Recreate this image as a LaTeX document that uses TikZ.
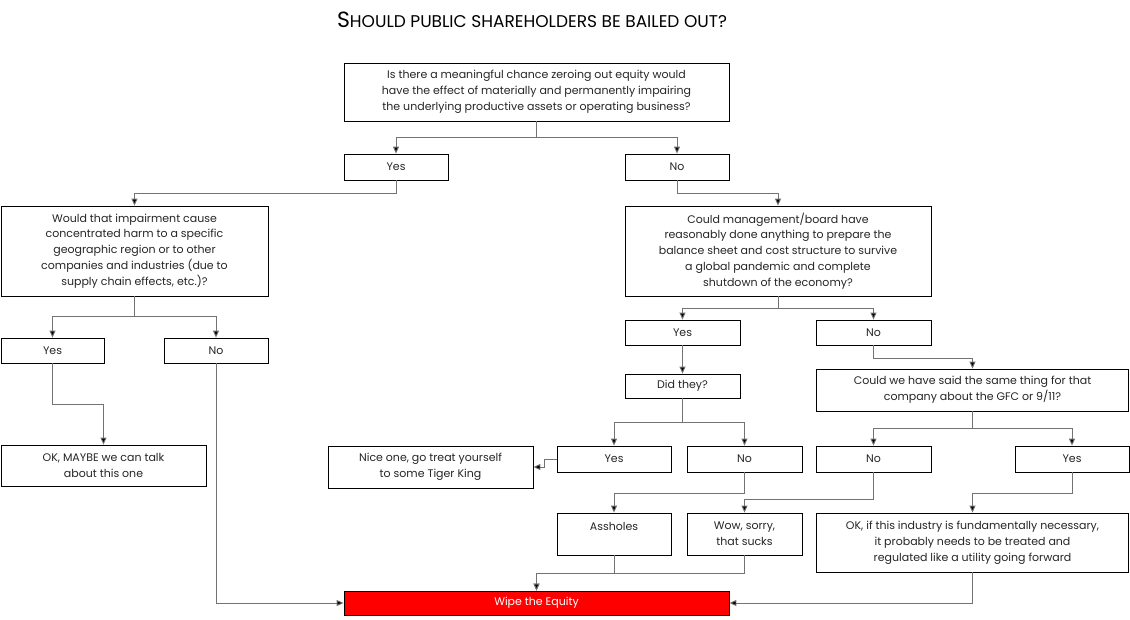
\documentclass[tikz,border=0pt]{standalone}
\usepackage{fontspec}
\setmainfont{Poppins}
\usetikzlibrary{arrows.meta}
\begin{document}
\begin{tikzpicture}[x=1pt,y=-1pt,
 box/.style={draw=black,fill=white,line width=0.8pt,align=center,inner sep=1pt,font=\fontsize{11}{15.8}\selectfont,text=black!85},
 arr/.style={draw=black!55,line width=0.9pt,-{Triangle[length=7pt,width=6pt,fill=black]}},
 ln/.style={draw=black!55,line width=0.9pt}]
\path[fill=white] (0,0) rectangle (1130,619);
\node (title) at (532,20) {\fontsize{22}{24}\selectfont S\fontsize{17}{24}\selectfont HOULD PUBLIC SHAREHOLDERS BE BAILED OUT?};
\node[box,minimum width=385,minimum height=58] (Q1) at (536.5,92) {Is there a meaningful chance zeroing out equity would\\have the effect of materially and permanently impairing\\the underlying productive assets or operating business?};
\node[box,minimum width=104,minimum height=26] (Yes1) at (396,167) {Yes};
\node[box,minimum width=104,minimum height=26] (No1) at (677,167) {No};
\node[box,minimum width=267,minimum height=90] (Q2) at (134.5,251) {Would that impairment cause\\concentrated harm to a specific\\geographic region or to other\\companies and industries (due to\\supply chain effects, etc.)?};
\node[box,minimum width=306,minimum height=90] (Q3) at (778,251) {Could management/board have\\reasonably done anything to prepare the\\balance sheet and cost structure to survive\\a global pandemic and complete\\shutdown of the economy?};
\node[box,minimum width=103,minimum height=25] (YesL) at (52.5,350.5) {Yes};
\node[box,minimum width=104,minimum height=25] (NoL) at (216,350.5) {No};
\node[box,minimum width=205,minimum height=41] (OKm) at (103.5,465.5) {OK, MAYBE we can talk\\about this one};
\node[box,minimum width=115,minimum height=25] (YesR) at (682.5,332.5) {Yes};
\node[box,minimum width=115,minimum height=25] (NoR) at (873.5,332.5) {No};
\node[box,minimum width=115,minimum height=24] (Did) at (682.5,386) {Did they?};
\node[box,minimum width=312,minimum height=42] (Q4) at (972.5,390) {Could we have said the same thing for that\\company about the GFC or 9/11?};
\node[box,minimum width=114,minimum height=26] (Yes2) at (614,459) {Yes};
\node[box,minimum width=115,minimum height=26] (No2) at (744.5,459) {No};
\node[box,minimum width=205,minimum height=42] (Nice) at (430.5,467) {Nice one, go treat yourself\\to some Tiger King};
\node[box,minimum width=115,minimum height=26] (No3) at (873.5,459) {No};
\node[box,minimum width=114,minimum height=26] (Yes3) at (1072,459) {Yes};
\node[box,minimum width=114,minimum height=42] (Ass) at (614,534) {Assholes\\[0pt]\mbox{}};
\node[box,minimum width=115,minimum height=42] (Wow) at (744.5,534) {Wow, sorry,\\that sucks};
\node[box,minimum width=312,minimum height=59] (OKi) at (972.5,542.5) {OK, if this industry is fundamentally necessary,\\it probably needs to be treated and\\regulated like a utility going forward};
\node[box,fill=red,text=white,minimum width=385,minimum height=24] (Wipe) at (536.5,603) {Wipe the Equity};
\draw[arr] (Q1.south) -- ++(0,16) -| (Yes1.north);
\draw[arr] (Q1.south) -- ++(0,16) -| (No1.north);
\draw[arr] (Yes1.south) -- ++(0,13) -| (Q2.north);
\draw[arr] (No1.south) -- ++(0,13) -| (Q3.north);
\draw[arr] (Q2.south) -- ++(0,20) -| (YesL.north);
\draw[arr] (Q2.south) -- ++(0,20) -| (NoL.north);
\draw[arr] (YesL.south) -- ++(0,41) -| (OKm.north);
\draw[arr] (NoL.south) |- (Wipe.west);
\draw[arr] (Q3.south) -- ++(0,12) -| (YesR.north);
\draw[arr] (Q3.south) -- ++(0,12) -| (NoR.north);
\draw[arr] (YesR.south) -- (Did.north);
\draw[arr] (NoR.south) -- ++(0,13) -| (Q4.north);
\draw[arr] (Did.south) -- ++(0,24) -| (Yes2.north);
\draw[arr] (Did.south) -- ++(0,24) -| (No2.north);
\draw[arr] (Q4.south) -- ++(0,17) -| (No3.north);
\draw[arr] (Q4.south) -- ++(0,17) -| (Yes3.north);
\draw[arr] (Yes2.west) -- ++(-12,0) |- (Nice.east);
\draw[arr] (No2.south) -- ++(0,21) -| (Ass.north);
\draw[arr] (No3.south) -- ++(0,27) -| (Wow.north);
\draw[arr] (Yes3.south) -- ++(0,21) -| (OKi.north);
\draw[arr] (Ass.south) -- ++(0,18) -| (Wipe.north);
\draw[arr] (Wow.south) -- ++(0,18) -| (Wipe.north);
\draw[arr] (OKi.south) |- (Wipe.east);
\end{tikzpicture}
\end{document}
